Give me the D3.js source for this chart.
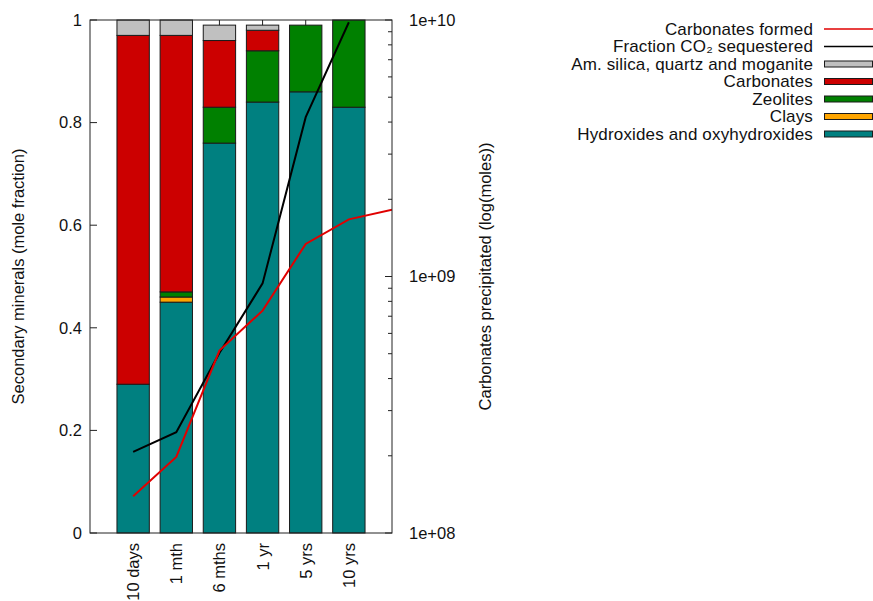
<!DOCTYPE html>
<html>
<head>
<meta charset="utf-8">
<script src="https://cdn.jsdelivr.net/npm/d3@7"></script>
<style>
  html, body { margin: 0; padding: 0; background: #fff; }
  svg { display: block; font-family: "Liberation Sans", Arial, Helvetica, sans-serif; }
</style>
</head>
<body>
<svg id="chart" width="873" height="601"></svg>
<script>
// Time steps of the simulation
const categories = ["10 days", "1 mth", "6 mths", "1 yr", "5 yrs", "10 yrs"];

// Secondary minerals, mole fraction per time step (stacked bottom to top)
const hydroxides = [0.29, 0.45, 0.76, 0.84, 0.86, 0.83];
const clays      = [0.00, 0.01, 0.00, 0.00, 0.00, 0.00];
const zeolites   = [0.00, 0.01, 0.07, 0.10, 0.13, 0.17];
const carbonates = [0.68, 0.50, 0.13, 0.04, 0.00, 0.00];
const silica     = [0.03, 0.03, 0.03, 0.01, 0.00, 0.00];

// Lines on the right (log) axis; the carbonates curve runs one step past the last bar
const carbonatesFormed = [1.39e8, 1.98e8, 5.14e8, 7.36e8, 1.34e9, 1.67e9, 1.82e9];
const co2Sequestered   = [2.07e8, 2.47e8, 5.03e8, 9.4e8, 4.18e9, 9.8e9];

// Axis ticks
const leftTicks = [0, 0.2, 0.4, 0.6, 0.8, 1];
const rightTicks = [1e8, 1e9, 1e10];

const seriesNames = ["Hydroxides and oxyhydroxides", "Clays", "Zeolites", "Carbonates", "Am. silica, quartz and moganite"];
const seriesValues = [hydroxides, clays, zeolites, carbonates, silica];
const seriesColors = ["#008080", "#ffa500", "#008000", "#cc0000", "#c0c0c0"];

const svg = d3.select("#chart");
const plotL = 90, plotR = 392, plotT = 20, plotB = 533;

const x = d3.scaleLinear().domain([-1, 6]).range([plotL, plotR]);
const yL = d3.scaleLinear().domain([0, 1]).range([plotB, plotT]);
const yR = d3.scaleLog().domain([1e8, 1e10]).range([plotB, plotT]);
const barW = (x(1) - x(0)) * 0.75;
const axisColor = "#222";

// Tick marks (inward, mirrored on top and right)
const tickG = svg.append("g").attr("stroke", axisColor).attr("stroke-width", 1);
categories.forEach((c, i) => {
  tickG.append("line").attr("x1", x(i)).attr("x2", x(i)).attr("y1", plotT).attr("y2", plotT + 7);
  tickG.append("line").attr("x1", x(i)).attr("x2", x(i)).attr("y1", plotB).attr("y2", plotB - 7);
});
leftTicks.forEach(t => {
  tickG.append("line").attr("x1", plotL).attr("x2", plotL + 7).attr("y1", yL(t)).attr("y2", yL(t));
});
const minorTicks = [];
for (let e = 8; e < 10; e++) for (let m = 2; m <= 9; m++) minorTicks.push(m * Math.pow(10, e));
rightTicks.forEach(t => {
  tickG.append("line").attr("x1", plotR).attr("x2", plotR - 7).attr("y1", yR(t)).attr("y2", yR(t));
});
minorTicks.forEach(t => {
  tickG.append("line").attr("x1", plotR).attr("x2", plotR - 4).attr("y1", yR(t)).attr("y2", yR(t));
});

// Stacked bars
const stackData = categories.map((c, i) => {
  const row = { cat: c, idx: i };
  seriesNames.forEach((n, k) => row[n] = seriesValues[k][i]);
  return row;
});
const stack = d3.stack().keys(seriesNames)(stackData);
stack.forEach((layer, k) => {
  svg.append("g").selectAll("rect")
    .data(layer.filter(d => d[1] - d[0] > 1e-9))
    .join("rect")
    .attr("x", d => x(d.data.idx) - barW / 2)
    .attr("width", barW)
    .attr("y", d => yL(d[1]))
    .attr("height", d => yL(d[0]) - yL(d[1]))
    .attr("fill", seriesColors[k])
    .attr("stroke", "#1a1a1a")
    .attr("stroke-width", 1);
});

// Lines on the log axis, clipped to the plot frame
svg.append("clipPath").attr("id", "plotClip")
  .append("rect").attr("x", plotL).attr("y", plotT).attr("width", plotR - plotL).attr("height", plotB - plotT);
const line = d3.line().x((d, i) => x(i)).y(d => yR(d));
svg.append("path").datum(co2Sequestered)
  .attr("d", line).attr("fill", "none").attr("stroke", "#000").attr("stroke-width", 2)
  .attr("clip-path", "url(#plotClip)");
svg.append("path").datum(carbonatesFormed)
  .attr("d", line).attr("fill", "none").attr("stroke", "#e00000").attr("stroke-width", 2)
  .attr("clip-path", "url(#plotClip)");

// Frame
svg.append("rect").attr("x", plotL).attr("y", plotT).attr("width", plotR - plotL).attr("height", plotB - plotT)
  .attr("fill", "none").attr("stroke", axisColor).attr("stroke-width", 1);

// Tick labels
const fs = 16.5;
svg.append("g").selectAll("text").data(leftTicks).join("text")
  .attr("x", plotL - 8).attr("y", d => yL(d)).attr("dy", "0.35em")
  .attr("text-anchor", "end").attr("font-size", fs).attr("fill", "#111")
  .text(d => d3.format("~g")(d));
svg.append("g").selectAll("text").data(rightTicks).join("text")
  .attr("x", plotR + 17).attr("y", d => yR(d)).attr("dy", "0.35em")
  .attr("text-anchor", "start").attr("font-size", fs).attr("fill", "#111")
  .text(d => "1e+" + String(Math.round(Math.log10(d))).padStart(2, "0"));
svg.append("g").selectAll("text").data(categories).join("text")
  .attr("transform", (d, i) => `translate(${x(i) + 6},${plotB + 10}) rotate(-90)`)
  .attr("text-anchor", "end").attr("font-size", fs).attr("fill", "#111")
  .text(d => d);

// Axis titles
svg.append("text")
  .attr("transform", `translate(24,${(plotT + plotB) / 2}) rotate(-90)`)
  .attr("text-anchor", "middle").attr("font-size", fs).attr("fill", "#111")
  .text("Secondary minerals (mole fraction)");
svg.append("text")
  .attr("transform", `translate(491,${(plotT + plotB) / 2}) rotate(-90)`)
  .attr("text-anchor", "middle").attr("font-size", fs).attr("fill", "#111")
  .text("Carbonates precipitated (log(moles))");

// Legend
const legendItems = [
  { label: "Carbonates formed", type: "line", color: "#e00000" },
  { label: "Fraction CO\u2082 sequestered", type: "line", color: "#000" },
  { label: "Am. silica, quartz and moganite", type: "box", color: "#c0c0c0" },
  { label: "Carbonates", type: "box", color: "#cc0000" },
  { label: "Zeolites", type: "box", color: "#008000" },
  { label: "Clays", type: "box", color: "#ffa500" },
  { label: "Hydroxides and oxyhydroxides", type: "box", color: "#008080" }
];
const lfs = 17;
const lg = svg.append("g");
legendItems.forEach((it, i) => {
  const cy = 29 + i * 17.5;
  lg.append("text").attr("x", 813).attr("y", cy).attr("dy", "0.35em")
    .attr("text-anchor", "end").attr("font-size", lfs).attr("letter-spacing", 0.15)
    .attr("fill", "#111").text(it.label);
  if (it.type === "line") {
    lg.append("line").attr("x1", 824).attr("x2", 873).attr("y1", cy).attr("y2", cy)
      .attr("stroke", it.color).attr("stroke-width", 1.5);
  } else {
    lg.append("rect").attr("x", 824.5).attr("y", cy - 3).attr("width", 48).attr("height", 6)
      .attr("fill", it.color).attr("stroke", "#1a1a1a").attr("stroke-width", 1);
  }
});
</script>
</body>
</html>
